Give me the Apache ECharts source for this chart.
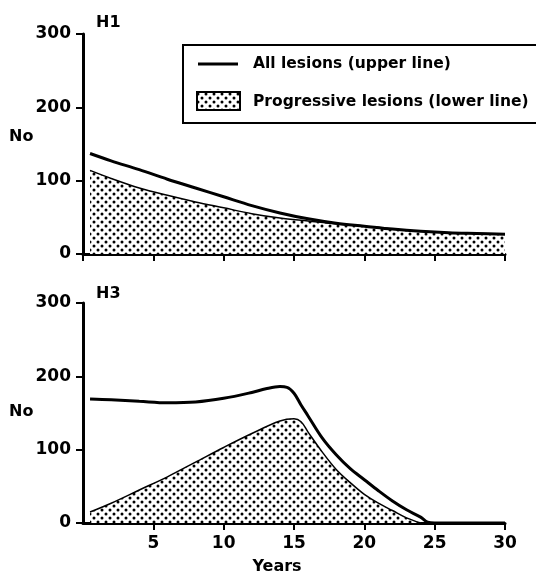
<!DOCTYPE html>
<html>
<head>
<meta charset="utf-8">
<script src="https://cdn.jsdelivr.net/npm/echarts@6/dist/echarts.min.js"></script>
<style>
  html, body { margin: 0; padding: 0; background: #fff; }
  #chart { width: 536px; height: 577px; }
</style>
</head>
<body>
<div id="chart"></div>
<script>
// H1 panel
const yearsH1 = [0.5, 2, 4, 6, 8, 10, 12, 14, 16, 18, 20, 22, 24, 26, 28, 30]
const allH1 = [137, 127, 115, 102, 90, 78, 66, 56, 48, 42, 38, 34, 31, 29, 28, 27]
const progH1 = [114, 103, 90, 80, 71, 63, 55, 49, 45, 41, 38, 34, 31, 29, 28, 27]

// H3 panel
const yearsAllH3 = [0.5, 2, 4, 6, 8, 10, 12, 13, 14, 14.5, 15, 15.5, 16, 17, 18, 19, 20, 21, 22, 23, 24, 24.5, 25, 30]
const allH3 = [169, 168, 166, 164, 165, 170, 178, 183, 186, 185, 177, 161, 146, 116, 93, 74, 59, 44, 30, 18, 8, 1, 0, 0]
const yearsProgH3 = [0.5, 2, 4, 6, 8, 10, 12, 14, 15, 15.5, 16, 17, 18, 19, 20, 21, 22, 23, 24]
const progH3 = [15, 27, 45, 63, 83, 103, 122, 139, 142, 138, 124, 97, 73, 55, 39, 27, 17, 7, 0]

const yTicks = [0, 100, 200, 300]
const xTicks = [5, 10, 15, 20, 25, 30]

const legendNames = ['All lesions (upper line)', 'Progressive lesions (lower line)']

function pairs(xs, ys) {
  return xs.map(function (x, i) { return [x, ys[i]] })
}

// dotted fill
const tile = document.createElement('canvas')
tile.width = 8
tile.height = 8
const tc = tile.getContext('2d')
tc.fillStyle = '#fff'
tc.fillRect(0, 0, 8, 8)
tc.fillStyle = '#000'
;[[2, 2], [6, 6]].forEach(function (p) {
  tc.beginPath()
  tc.arc(p[0], p[1], 1.5, 0, Math.PI * 2)
  tc.fill()
})
const dots = { image: tile, repeat: 'repeat' }

const font = '"DejaVu Sans", sans-serif'

function xAxisOf(idx, labels) {
  return {
    type: 'value',
    gridIndex: idx,
    min: 0,
    max: 30,
    interval: 5,
    axisLine: { show: true, lineStyle: { color: '#000', width: 3 } },
    axisTick: { show: true, length: 7, lineStyle: { color: '#000', width: 2 } },
    axisLabel: {
      show: labels,
      showMinLabel: false,
      margin: 12,
      color: '#000',
      fontFamily: font,
      fontWeight: 'bold',
      fontSize: 17,
      formatter: function (v) { return xTicks.indexOf(v) >= 0 ? String(v) : '' }
    },
    splitLine: { show: false }
  }
}

function yAxisOf(idx) {
  return {
    type: 'value',
    gridIndex: idx,
    min: 0,
    max: 300,
    interval: 100,
    axisLine: { show: true, lineStyle: { color: '#000', width: 3 } },
    axisTick: { show: true, length: 7, lineStyle: { color: '#000', width: 2 } },
    axisLabel: {
      margin: 12,
      color: '#000',
      fontFamily: font,
      fontWeight: 'bold',
      fontSize: 17,
      formatter: function (v) { return yTicks.indexOf(v) >= 0 ? String(v) : '' }
    },
    splitLine: { show: false }
  }
}

function lineSeries(name, idx, data, width, fill) {
  const s = {
    name: name,
    type: 'line',
    xAxisIndex: idx,
    yAxisIndex: idx,
    data: data,
    smooth: 0.35,
    symbol: 'none',
    lineStyle: { color: '#000', width: width },
    itemStyle: { color: '#000' },
    z: fill ? 2 : 3
  }
  if (fill) s.areaStyle = { color: dots, opacity: 1 }
  return s
}

const chart = echarts.init(document.getElementById('chart'))

chart.setOption({
  animation: false,
  backgroundColor: '#fff',
  grid: [
    { left: 83, top: 34, width: 422, height: 220 },
    { left: 83, top: 303, width: 422, height: 220 }
  ],
  xAxis: [xAxisOf(0, false), xAxisOf(1, true)],
  yAxis: [yAxisOf(0), yAxisOf(1)],
  series: [
    lineSeries(legendNames[1], 0, pairs(yearsH1, progH1), 1.5, true),
    lineSeries(legendNames[0], 0, pairs(yearsH1, allH1), 3, false),
    lineSeries(legendNames[1], 1, pairs(yearsProgH3, progH3), 1.5, true),
    lineSeries(legendNames[0], 1, pairs(yearsAllH3, allH3), 3, false)
  ],
  graphic: [
    { type: 'text', x: 96, y: 23, style: { text: 'H1', font: 'bold 16px ' + font, fill: '#000', textVerticalAlign: 'middle' } },
    { type: 'text', x: 96, y: 294, style: { text: 'H3', font: 'bold 16px ' + font, fill: '#000', textVerticalAlign: 'middle' } },
    { type: 'text', x: 9, y: 137, style: { text: 'No', font: 'bold 16px ' + font, fill: '#000', textVerticalAlign: 'middle' } },
    { type: 'text', x: 9, y: 412, style: { text: 'No', font: 'bold 16px ' + font, fill: '#000', textVerticalAlign: 'middle' } },
    { type: 'text', x: 277, y: 567, style: { text: 'Years', font: 'bold 16px ' + font, fill: '#000', textAlign: 'center', textVerticalAlign: 'middle' } },
    // legend box
    { type: 'rect', shape: { x: 183, y: 45, width: 400, height: 78 }, style: { fill: '#fff', stroke: '#000', lineWidth: 2 }, z: 10 },
    { type: 'line', shape: { x1: 198, y1: 64, x2: 238, y2: 64 }, style: { stroke: '#000', lineWidth: 3 }, z: 11 },
    { type: 'rect', shape: { x: 197, y: 92, width: 43, height: 18 }, style: { fill: dots, stroke: '#000', lineWidth: 2 }, z: 11 },
    { type: 'text', x: 253, y: 64, style: { text: legendNames[0], font: 'bold 15.5px ' + font, fill: '#000', textVerticalAlign: 'middle' }, z: 11 },
    { type: 'text', x: 253, y: 102, style: { text: legendNames[1], font: 'bold 15.5px ' + font, fill: '#000', textVerticalAlign: 'middle' }, z: 11 }
  ]
})
</script>
</body>
</html>
